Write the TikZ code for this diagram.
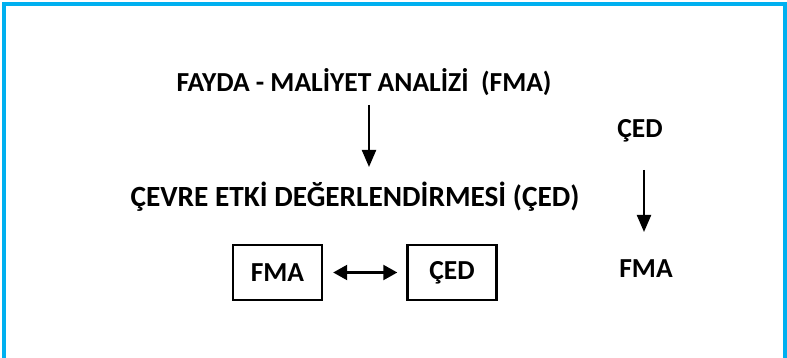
\documentclass[tikz,border=0pt]{standalone}
\usepackage{fontspec}
\setmainfont{Carlito}
\usetikzlibrary{arrows.meta}
\definecolor{frameblue}{HTML}{00B0F0}
\begin{document}
\begin{tikzpicture}[x=1pt,y=-1pt,
  lbl/.style={font=\fontsize{27.5}{32}\selectfont\bfseries, inner sep=0pt, anchor=base},
  boxnode/.style={draw, line width=2.4pt, minimum width=89pt, minimum height=55pt, inner sep=0pt, font=\fontsize{27.5}{32}\selectfont\bfseries},
  arr/.style={line width=2.2pt, -{Triangle[length=17pt,width=14pt]}},
  darr/.style={line width=2.2pt, {Triangle[length=14pt,width=15pt]}-{Triangle[length=14pt,width=15pt]}}]
\useasboundingbox (0,0) rectangle (787,358);
\begin{scope}
\clip (0,0) rectangle (787,358);
\draw[frameblue, line width=3.5pt] (4,4) rectangle (785,366);
\end{scope}
\node[lbl] (fma) at (364,92) {FAYDA - MALİYET ANALİZİ\ \ (FMA)};
\node[lbl, font=\fontsize{29.3}{34}\selectfont\bfseries] (ced) at (355,207) {ÇEVRE ETKİ DEĞERLENDİRMESİ (ÇED)};
\coordinate (a1s) at (369,105);
\coordinate (a1e) at (369,167);
\draw[arr] (a1s) -- (a1e);
\node[boxnode] (b1) at (277.5,272.5) {FMA};
\node[boxnode] (b2) at (452,272.5) {ÇED};
\draw[darr] ([xshift=10pt]b1.east) -- ([xshift=-9pt]b2.west);
\node[lbl] (rced) at (640,138) {ÇED};
\node[lbl] (rfma) at (646,277) {FMA};
\coordinate (a2s) at (644,170);
\coordinate (a2e) at (644,232);
\draw[arr] (a2s) -- (a2e);
\end{tikzpicture}
\end{document}
